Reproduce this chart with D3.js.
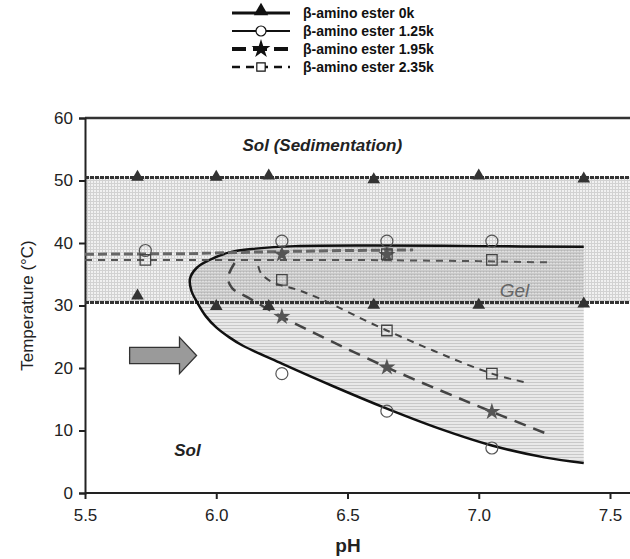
<!DOCTYPE html>
<html>
<head>
<meta charset="utf-8">
<script src="https://d3js.org/d3.v7.min.js"></script>
<style>
  body { margin: 0; background: #fff; }
  svg { font-family: "Liberation Sans", Arial, sans-serif; }
</style>
</head>
<body>
<svg id="chart" width="630" height="559"></svg>
<script>
// tick labels
const xTicks = [5.5, 6.0, 6.5, 7.0, 7.5];
const yTicks = [0, 10, 20, 30, 40, 50, 60];
const seriesNames = ["β-amino ester 0k", "β-amino ester 1.25k", "β-amino ester 1.95k", "β-amino ester 2.35k"];

// 0k : two flat boundaries + triangle points
const bounds0k = [50.5, 30.5];
const pH0k = [5.7, 6.0, 6.2, 6.6, 7.0, 7.4];
const temp0kUpper = [50.4, 50.4, 50.6, 50.0, 50.6, 50.1];
const temp0kLower = [31.4, 29.7, 29.7, 29.9, 29.9, 30.1];

// 1.25k : solid boundary curve (upper branch -> nose -> lower branch)
const curve125pH = [7.4, 7.0, 6.6, 6.3, 6.15, 6.05, 5.97, 5.925, 5.9, 5.905, 5.93, 5.96, 6.0, 6.05, 6.1, 6.25, 6.45, 6.65, 6.85, 7.05, 7.25, 7.4];
const curve125T  = [39.4, 39.5, 39.6, 39.5, 39.1, 38.5, 37.2, 36.0, 34.3, 32.4, 30.3, 28.3, 26.5, 24.9, 23.6, 20.7, 17.0, 13.5, 10.3, 7.6, 5.7, 4.8];
const pts125pH = [5.73, 6.25, 6.65, 7.05, 6.25, 6.65, 7.05];
const pts125T  = [38.8, 40.3, 40.3, 40.3, 19.1, 13.1, 7.2];

// 1.95k
const top195pH = [5.5, 5.9, 6.2, 6.5, 6.75];
const top195T  = [38.2, 38.3, 38.6, 38.8, 38.9];
const low195pH = [6.07, 6.045, 6.06, 6.12, 6.25, 6.65, 7.05, 7.27];
const low195T  = [36.8, 34.5, 32.8, 31.3, 28.2, 20.1, 13.0, 9.3];
const pts195pH = [6.25, 6.65, 6.25, 6.65, 7.05];
const pts195T  = [38.2, 38.1, 28.2, 20.1, 13.0];

// 2.35k
const top235pH = [5.5, 6.0, 6.5, 7.0, 7.26];
const top235T  = [37.3, 37.3, 37.3, 37.1, 36.9];
const low235pH = [6.16, 6.17, 6.21, 6.31, 6.4, 6.65, 7.05, 7.19];
const low235T  = [36.3, 35.2, 33.8, 32.5, 31.0, 26.0, 19.1, 17.6];
const pts235pH = [5.73, 6.25, 6.65, 7.05, 6.65, 7.05];
const pts235T  = [37.3, 34.1, 38.2, 37.3, 26.0, 19.1];

const width = 630, height = 559;
const x = d3.scaleLinear().domain([5.5, 7.5]).range([85, 610]);
const y = d3.scaleLinear().domain([0, 60]).range([493, 118]);
const svg = d3.select("#chart");
const zip = (a, b) => a.map((v, i) => [v, b[i]]);

const defs = svg.append("defs");
const band = defs.append("pattern").attr("id", "bandGrid").attr("patternUnits", "userSpaceOnUse")
  .attr("width", 3).attr("height", 3);
band.append("rect").attr("width", 3).attr("height", 3).attr("fill", "#f1f1f1");
band.append("path").attr("d", "M0,0.5H3M0.5,0V3").attr("stroke", "#d2d2d2").attr("stroke-width", 1);
const hatch = defs.append("pattern").attr("id", "hatch").attr("patternUnits", "userSpaceOnUse")
  .attr("width", 3).attr("height", 3);
hatch.append("rect").attr("width", 3).attr("height", 3).attr("fill", "rgba(190,190,190,0.35)");
hatch.append("path").attr("d", "M0,1.5H3").attr("stroke", "rgba(140,140,140,0.35)").attr("stroke-width", 1);

// gel band between the 0k boundaries
svg.append("rect")
  .attr("x", x(5.5)).attr("y", y(bounds0k[0]))
  .attr("width", width - x(5.5)).attr("height", y(bounds0k[1]) - y(bounds0k[0]))
  .attr("fill", "url(#bandGrid)");

// 1.25k region fill
const smooth = d3.line().x(d => x(d[0])).y(d => y(d[1])).curve(d3.curveCatmullRom.alpha(0.5));
svg.append("path")
  .attr("d", smooth(zip(curve125pH, curve125T)) + "Z")
  .attr("fill", "url(#hatch)");

// axes
const gx = svg.append("g").attr("transform", `translate(0,${y(0)})`)
  .call(d3.axisBottom(x).tickValues(xTicks).tickFormat(d3.format(".1f")).tickSizeOuter(0).tickSize(6).tickPadding(10));
gx.select(".domain").remove();
gx.selectAll("line").attr("stroke", "#222").attr("stroke-width", 2);
gx.selectAll("text").attr("font-size", 17).attr("fill", "#222");
svg.append("line").attr("x1", x(5.5)).attr("x2", width).attr("y1", y(0)).attr("y2", y(0))
  .attr("stroke", "#222").attr("stroke-width", 2);
svg.append("line").attr("x1", x(5.5)).attr("x2", width).attr("y1", y(60)).attr("y2", y(60))
  .attr("stroke", "#333").attr("stroke-width", 2.5);

const gy = svg.append("g").attr("transform", `translate(${x(5.5)},0)`)
  .call(d3.axisLeft(y).tickValues(yTicks).tickSizeOuter(0).tickSize(6).tickPadding(6));
gy.select(".domain").attr("stroke", "#222").attr("stroke-width", 2);
gy.selectAll("line").attr("stroke", "#222").attr("stroke-width", 2);
gy.selectAll("text").attr("font-size", 17).attr("fill", "#222");

svg.append("text").attr("x", 348).attr("y", 552).attr("text-anchor", "middle")
  .attr("font-size", 19).attr("font-weight", "bold").attr("fill", "#222").text("pH");
svg.append("text").attr("transform", `translate(33,${y(30)}) rotate(-90)`).attr("text-anchor", "middle")
  .attr("font-size", 17).attr("fill", "#222").text("Temperature (°C)");

// 0k boundaries
bounds0k.forEach(t => {
  svg.append("line").attr("x1", x(5.5)).attr("x2", width).attr("y1", y(t)).attr("y2", y(t))
    .attr("stroke", "#333").attr("stroke-width", 3).attr("stroke-dasharray", "4,1");
});

// 1.25k curve
svg.append("path").attr("d", smooth(zip(curve125pH, curve125T)))
  .attr("fill", "none").attr("stroke", "#111").attr("stroke-width", 2.5);

// 1.95k
const straight = d3.line().x(d => x(d[0])).y(d => y(d[1]));
svg.append("path").attr("d", straight(zip(top195pH, top195T)))
  .attr("fill", "none").attr("stroke", "#666").attr("stroke-width", 3).attr("stroke-dasharray", "9,4");
svg.append("path").attr("d", smooth(zip(low195pH, low195T)))
  .attr("fill", "none").attr("stroke", "#444").attr("stroke-width", 2.5).attr("stroke-dasharray", "12,8");

// 2.35k
svg.append("path").attr("d", straight(zip(top235pH, top235T)))
  .attr("fill", "none").attr("stroke", "#555").attr("stroke-width", 2).attr("stroke-dasharray", "7,6");
svg.append("path").attr("d", smooth(zip(low235pH, low235T)))
  .attr("fill", "none").attr("stroke", "#444").attr("stroke-width", 2).attr("stroke-dasharray", "7,6");

// markers
const tri = d3.symbol().type(d3.symbolTriangle).size(70);
const star = d3.symbol().type(d3.symbolStar).size(90);
const sq = d3.symbol().type(d3.symbolSquare).size(110);
svg.append("g").selectAll("path").data(zip(pH0k, temp0kUpper).concat(zip(pH0k, temp0kLower))).join("path")
  .attr("transform", d => `translate(${x(d[0])},${y(d[1]) - 1})`).attr("d", tri).attr("fill", "#333");
svg.append("g").selectAll("circle").data(zip(pts125pH, pts125T)).join("circle")
  .attr("cx", d => x(d[0])).attr("cy", d => y(d[1])).attr("r", 6)
  .attr("fill", "none").attr("stroke", "#555").attr("stroke-width", 1.2);
svg.append("g").selectAll("path").data(zip(pts195pH, pts195T)).join("path")
  .attr("transform", d => `translate(${x(d[0])},${y(d[1])})`).attr("d", star).attr("fill", "#555");
svg.append("g").selectAll("path").data(zip(pts235pH, pts235T)).join("path")
  .attr("transform", d => `translate(${x(d[0])},${y(d[1])})`).attr("d", sq)
  .attr("fill", "none").attr("stroke", "#444").attr("stroke-width", 1.3);

// arrow (tail, head base, tip in data units)
const arrow = [[5.67, 23.3], [5.86, 23.3], [5.86, 24.9], [5.925, 22], [5.86, 19.1], [5.86, 20.7], [5.67, 20.7]];
svg.append("path").attr("d", straight(arrow) + "Z")
  .attr("fill", "#9a9a9a").attr("stroke", "#333").attr("stroke-width", 1.3);

// region labels
svg.append("text").attr("x", x(6.1)).attr("y", y(55.7) + 6).attr("font-size", 17)
  .attr("font-style", "italic").attr("font-weight", "bold").attr("fill", "#222").text("Sol (Sedimentation)");
svg.append("text").attr("x", x(7.08)).attr("y", y(32.5) + 7).attr("font-size", 19)
  .attr("font-style", "italic").attr("fill", "#666").text("Gel");
svg.append("text").attr("x", x(5.84)).attr("y", y(6.9) + 6).attr("font-size", 17)
  .attr("font-style", "italic").attr("font-weight", "bold").attr("fill", "#222").text("Sol");

// legend
const leg = svg.append("g");
const legStyles = [
  { w: 3, dash: null, sym: "tri" },
  { w: 2, dash: null, sym: "circle" },
  { w: 4, dash: "14,7", sym: "star" },
  { w: 2.5, dash: "8,6", sym: "sq" }
];
seriesNames.forEach((name, i) => {
  const cy = 13 + i * 18;
  const st = legStyles[i];
  leg.append("line").attr("x1", 232).attr("x2", 290).attr("y1", cy).attr("y2", cy)
    .attr("stroke", "#111").attr("stroke-width", st.w).attr("stroke-dasharray", st.dash);
  if (st.sym === "tri") leg.append("path").attr("transform", `translate(261,${cy - 2})`)
    .attr("d", d3.symbol().type(d3.symbolTriangle).size(90)).attr("fill", "#111");
  if (st.sym === "circle") leg.append("circle").attr("cx", 261).attr("cy", cy).attr("r", 5)
    .attr("fill", "#fff").attr("stroke", "#111").attr("stroke-width", 1.2);
  if (st.sym === "star") leg.append("path").attr("transform", `translate(261,${cy})`)
    .attr("d", d3.symbol().type(d3.symbolStar).size(110)).attr("fill", "#111");
  if (st.sym === "sq") leg.append("path").attr("transform", `translate(261,${cy})`)
    .attr("d", d3.symbol().type(d3.symbolSquare).size(70)).attr("fill", "#fff").attr("stroke", "#111").attr("stroke-width", 1.2);
  leg.append("text").attr("x", 303).attr("y", cy + 5).attr("font-size", 14).attr("font-weight", "bold")
    .attr("fill", "#111").text(name);
});
</script>
</body>
</html>
